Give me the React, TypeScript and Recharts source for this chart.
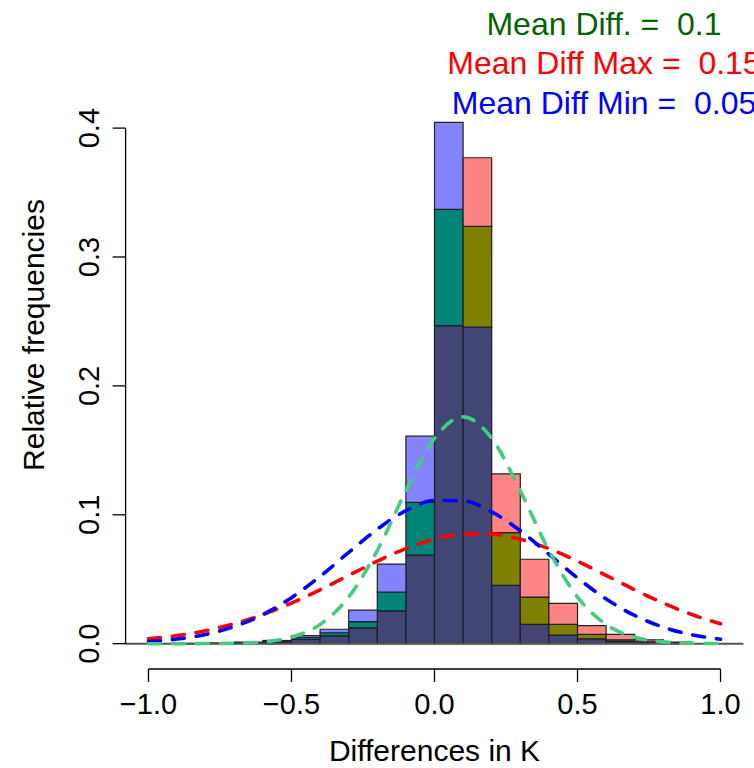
import { ComposedChart, Bar, Line, XAxis, YAxis, ReferenceLine, Cell } from "recharts"

// histogram bins (width 0.1), mid points
const binMids = [
  -0.95, -0.85, -0.75, -0.65, -0.55, -0.45, -0.35, -0.25, -0.15, -0.05,
  0.05, 0.15, 0.25, 0.35, 0.45, 0.55, 0.65, 0.75, 0.85, 0.95,
]
// relative frequencies per bin
const histMin = [
  0, 0.0002, 0.0005, 0.0012, 0.0025, 0.0062, 0.0112, 0.0261, 0.0618, 0.161,
  0.4045, 0.2457, 0.0453, 0.015, 0.0067, 0.0038, 0.0016, 0.0007, 0.0003, 0,
]
const histDiff = [
  0, 0.0001, 0.0003, 0.0008, 0.0018, 0.0048, 0.0085, 0.0171, 0.0401, 0.1097,
  0.337, 0.3238, 0.0861, 0.0362, 0.015, 0.0072, 0.003, 0.0015, 0.0006, 0,
]
const histMax = [
  0, 0.0001, 0.0002, 0.0005, 0.0012, 0.0034, 0.0061, 0.0122, 0.0254, 0.0688,
  0.2467, 0.377, 0.1317, 0.0655, 0.0313, 0.014, 0.0072, 0.003, 0.0012, 0,
]

const curveX = [
  -1.0, -0.9, -0.8, -0.7, -0.6, -0.5, -0.4, -0.3, -0.2, -0.1, 0.0,
  0.1, 0.2, 0.3, 0.4, 0.5, 0.6, 0.7, 0.8, 0.9, 1.0,
]
const curveMin = [
  0.0017, 0.0036, 0.0072, 0.0133, 0.0226, 0.0357, 0.0522, 0.0708, 0.0888, 0.1032, 0.1111,
  0.1108, 0.1023, 0.0876, 0.0694, 0.051, 0.0347, 0.0219, 0.0128, 0.0069, 0.0035,
]
const curveDiff = [
  0, 0, 0.0001, 0.0003, 0.0014, 0.005, 0.0149, 0.0362, 0.0723, 0.1186, 0.1594,
  0.176, 0.1594, 0.1186, 0.0723, 0.0362, 0.0149, 0.005, 0.0014, 0.0003, 0.0001,
]
const curveMax = [
  0.0038, 0.0063, 0.0101, 0.0155, 0.0226, 0.0315, 0.0418, 0.053, 0.064, 0.0738, 0.081,
  0.085, 0.085, 0.081, 0.0738, 0.064, 0.053, 0.0418, 0.0315, 0.0226, 0.0155,
]

const xTicks = [-1, -0.5, 0, 0.5, 1]
const yTicks = [0, 0.1, 0.2, 0.3, 0.4]

const FONT = "'Liberation Sans', Arial, sans-serif"

// colours of the overlapping (semi transparent) histograms
const ONLY: Record<string, string> = { min: "#8484FF", max: "#FF8484", diff: "#9ae6b4" }
const PAIR: Record<string, string> = { "diff|min": "#008577", "diff|max": "#808000", "max|min": "#804080" }
const ALL = "#424675"

const bins = binMids.map((x, i) => {
  const vals = [
    { key: "min", v: histMin[i] },
    { key: "diff", v: histDiff[i] },
    { key: "max", v: histMax[i] },
  ].sort((a, b) => a.v - b.v)
  const top2 = [vals[1].key, vals[2].key].sort().join("|")
  return {
    x,
    low: vals[0].v,
    mid: vals[1].v - vals[0].v,
    high: vals[2].v - vals[1].v,
    lowColor: ALL,
    midColor: PAIR[top2],
    highColor: ONLY[vals[2].key],
  }
})

const curves = curveX.map((x, i) => ({ x, min: curveMin[i], diff: curveDiff[i], max: curveMax[i] }))

const fmt = (v: number) => (v < 0 ? "\u2212" + Math.abs(v).toFixed(1) : v.toFixed(1))

const XTick = (props: any) => {
  const { x, payload } = props
  return (
    <text x={x} y={714} textAnchor="middle" fontSize={29} fontFamily={FONT} fill="#000">
      {fmt(payload.value)}
    </text>
  )
}

const YTick = (props: any) => {
  const { y, payload } = props
  return (
    <text x={99} y={y} transform={`rotate(-90 99 ${y})`} textAnchor="middle" fontSize={29} fontFamily={FONT} fill="#000">
      {payload.value.toFixed(1)}
    </text>
  )
}

const Y_MIN = -0.01963
const Y_MAX = 0.41559
const X_DOMAIN = [-1.08, 1.08]

export default function App() {
  return (
    <div style={{ position: "absolute", left: 0, top: 0, width: 754, height: 768, background: "#fff", overflow: "hidden" }}>
      <ComposedChart width={754} height={768} data={bins} margin={{ top: 108, right: 10.6, bottom: 59, left: 65.6 }}>
        <XAxis
          dataKey="x"
          type="number"
          domain={X_DOMAIN}
          allowDataOverflow
          ticks={xTicks}
          interval={0}
          axisLine={false}
          tickSize={13}
          tickLine={{ stroke: "#000", strokeWidth: 1.3 }}
          tick={<XTick />}
          height={40}
        />
        <XAxis xAxisId="curve" dataKey="x" type="number" domain={X_DOMAIN} allowDataOverflow hide height={40} />
        <YAxis
          type="number"
          domain={[Y_MIN, Y_MAX]}
          allowDataOverflow
          ticks={yTicks}
          interval={0}
          axisLine={false}
          tickSize={13}
          tickLine={{ stroke: "#000", strokeWidth: 1.3 }}
          tick={<YTick />}
          width={60}
        />
        <ReferenceLine y={0} stroke="#555" strokeWidth={2} />
        <Bar dataKey="low" stackId="h" barSize={28.6} stroke="#1c1c2c" strokeWidth={1.2} isAnimationActive={false}>
          {bins.map((b, i) => (
            <Cell key={`low-${i}`} fill={b.lowColor} />
          ))}
        </Bar>
        <Bar dataKey="mid" stackId="h" barSize={28.6} stroke="#1c1c2c" strokeWidth={1.2} isAnimationActive={false}>
          {bins.map((b, i) => (
            <Cell key={`mid-${i}`} fill={b.midColor} />
          ))}
        </Bar>
        <Bar dataKey="high" stackId="h" barSize={28.6} stroke="#222" strokeWidth={1.2} isAnimationActive={false}>
          {bins.map((b, i) => (
            <Cell key={`high-${i}`} fill={b.highColor} />
          ))}
        </Bar>
        <Line xAxisId="curve" data={curves} dataKey="max" type="monotone" stroke="#FF0000" strokeWidth={3.6} strokeDasharray="12 12" strokeLinecap="round" dot={false} activeDot={false} isAnimationActive={false} />
        <Line xAxisId="curve" data={curves} dataKey="min" type="monotone" stroke="#0000FF" strokeWidth={3.6} strokeDasharray="12 12" strokeLinecap="round" dot={false} activeDot={false} isAnimationActive={false} />
        <Line xAxisId="curve" data={curves} dataKey="diff" type="monotone" stroke="#43CD80" strokeWidth={3.6} strokeDasharray="12 12" strokeLinecap="round" dot={false} activeDot={false} isAnimationActive={false} />
        <ReferenceLine segment={[{ x: -1.08, y: 0 }, { x: -1.08, y: 0.4 }]} ifOverflow="visible" stroke="#000" strokeWidth={1.3} />
        <ReferenceLine segment={[{ x: -1, y: Y_MIN }, { x: 1, y: Y_MIN }]} ifOverflow="visible" stroke="#000" strokeWidth={1.3} />
      </ComposedChart>
      <svg width={754} height={768} style={{ position: "absolute", left: 0, top: 0, pointerEvents: "none" }}>
        <g fontFamily={FONT}>
          <text x={604} y={35} textAnchor="middle" fontSize={32} fill="#006400" xmlSpace="preserve">Mean Diff. =  0.1</text>
          <text x={604} y={74} textAnchor="middle" fontSize={32} fill="#FF0000" xmlSpace="preserve">Mean Diff Max =  0.15</text>
          <text x={604} y={114} textAnchor="middle" fontSize={32} fill="#0000FF" xmlSpace="preserve">Mean Diff Min =  0.05</text>
          <text x={434.5} y={761} textAnchor="middle" fontSize={30} fill="#000">Differences in K</text>
          <text x={44} y={335} transform="rotate(-90 44 335)" textAnchor="middle" fontSize={30} fill="#000">Relative frequencies</text>
        </g>
      </svg>
    </div>
  )
}
